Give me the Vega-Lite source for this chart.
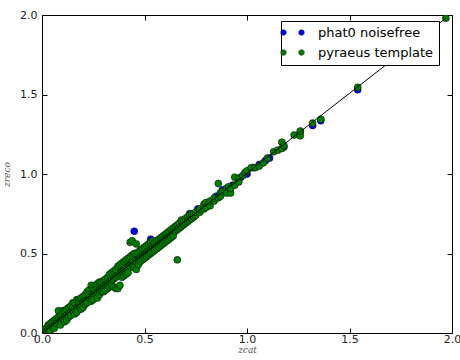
{
  "$schema": "https://vega.github.io/schema/vega-lite/v6.json",
  "autosize": "none",
  "width": 410,
  "height": 318,
  "padding": {"left": 42, "top": 15, "right": 8, "bottom": 27},
  "background": "white",
  "config": {
    "view": {"stroke": "black", "strokeWidth": 1},
    "axis": {"grid": false, "domain": false, "tickColor": "black", "tickSize": -5, "labelFlush": false, "labelOverlap": false, "labelFont": "DejaVu Sans", "labelFontSize": 11, "labelColor": "#222", "titleFont": "DejaVu Serif", "titleFontSize": 9, "titleFontStyle": "italic", "titleFontWeight": "normal", "titleColor": "#555"},
    "legend": {"orient": "none", "legendX": 239, "legendY": 6, "padding": 5, "strokeColor": "black", "fillColor": "white", "symbolType": "M-2.36,0 a0.56,0.56 0 1,0 1.12,0 a0.56,0.56 0 1,0 -1.12,0 M1.24,0 a0.56,0.56 0 1,0 1.12,0 a0.56,0.56 0 1,0 -1.12,0", "symbolSize": 100, "symbolStrokeWidth": 0.5, "symbolStrokeColor": "black", "labelFont": "DejaVu Sans", "labelFontSize": 13, "labelColor": "black", "labelOffset": 19, "rowPadding": 6, "cornerRadius": 0}
  },
  "datasets": {
    "phat": [
      {"zcat":0.03,"zreco":0.02},{"zcat":0.06,"zreco":0.06},{"zcat":0.09,"zreco":0.08},{"zcat":0.12,"zreco":0.12},{"zcat":0.15,"zreco":0.16},{"zcat":0.18,"zreco":0.19},{"zcat":0.20,"zreco":0.22},{"zcat":0.22,"zreco":0.21},{"zcat":0.25,"zreco":0.26},{"zcat":0.28,"zreco":0.29},{"zcat":0.30,"zreco":0.31},{"zcat":0.33,"zreco":0.35},{"zcat":0.36,"zreco":0.37},{"zcat":0.39,"zreco":0.39},{"zcat":0.42,"zreco":0.43},{"zcat":0.45,"zreco":0.64},{"zcat":0.47,"zreco":0.47},{"zcat":0.50,"zreco":0.51},{"zcat":0.53,"zreco":0.59},{"zcat":0.55,"zreco":0.56},{"zcat":0.58,"zreco":0.58},{"zcat":0.60,"zreco":0.61},{"zcat":0.63,"zreco":0.63},{"zcat":0.66,"zreco":0.67},{"zcat":0.69,"zreco":0.70},{"zcat":0.72,"zreco":0.75},{"zcat":0.74,"zreco":0.74},{"zcat":0.76,"zreco":0.78},{"zcat":0.80,"zreco":0.80},{"zcat":0.85,"zreco":0.86},{"zcat":0.88,"zreco":0.90},{"zcat":0.90,"zreco":0.905},{"zcat":0.93,"zreco":0.93},{"zcat":0.97,"zreco":0.98},{"zcat":1.00,"zreco":1.00},{"zcat":1.03,"zreco":1.04},{"zcat":1.06,"zreco":1.06},{"zcat":1.09,"zreco":1.085},{"zcat":1.11,"zreco":1.10},{"zcat":1.18,"zreco":1.17},{"zcat":1.26,"zreco":1.265},{"zcat":1.32,"zreco":1.305},{"zcat":1.36,"zreco":1.335},{"zcat":1.54,"zreco":1.53}
    ],
    "pyraeus": [
      {"zcat":0.01,"zreco":0.00},{"zcat":0.01,"zreco":0.02},{"zcat":0.02,"zreco":0.03},{"zcat":0.02,"zreco":0.01},{"zcat":0.03,"zreco":0.05},{"zcat":0.03,"zreco":0.02},{"zcat":0.04,"zreco":0.06},{"zcat":0.04,"zreco":0.03},{"zcat":0.04,"zreco":0.01},{"zcat":0.05,"zreco":0.04},{"zcat":0.05,"zreco":0.07},{"zcat":0.06,"zreco":0.05},{"zcat":0.06,"zreco":0.08},{"zcat":0.06,"zreco":0.03},{"zcat":0.07,"zreco":0.09},{"zcat":0.07,"zreco":0.06},{"zcat":0.08,"zreco":0.14},{"zcat":0.08,"zreco":0.07},{"zcat":0.08,"zreco":0.10},{"zcat":0.09,"zreco":0.08},{"zcat":0.09,"zreco":0.11},{"zcat":0.09,"zreco":0.05},{"zcat":0.10,"zreco":0.14},{"zcat":0.10,"zreco":0.09},{"zcat":0.10,"zreco":0.12},{"zcat":0.11,"zreco":0.10},{"zcat":0.11,"zreco":0.14},{"zcat":0.11,"zreco":0.07},{"zcat":0.12,"zreco":0.15},{"zcat":0.12,"zreco":0.11},{"zcat":0.12,"zreco":0.08},{"zcat":0.13,"zreco":0.12},{"zcat":0.13,"zreco":0.16},{"zcat":0.13,"zreco":0.10},{"zcat":0.14,"zreco":0.13},{"zcat":0.14,"zreco":0.17},{"zcat":0.14,"zreco":0.11},{"zcat":0.15,"zreco":0.14},{"zcat":0.15,"zreco":0.19},{"zcat":0.15,"zreco":0.16},{"zcat":0.16,"zreco":0.12},{"zcat":0.16,"zreco":0.15},{"zcat":0.16,"zreco":0.19},{"zcat":0.17,"zreco":0.16},{"zcat":0.17,"zreco":0.21},{"zcat":0.17,"zreco":0.13},{"zcat":0.18,"zreco":0.17},{"zcat":0.18,"zreco":0.21},{"zcat":0.18,"zreco":0.19},{"zcat":0.19,"zreco":0.18},{"zcat":0.19,"zreco":0.22},{"zcat":0.19,"zreco":0.15},{"zcat":0.20,"zreco":0.19},{"zcat":0.20,"zreco":0.23},{"zcat":0.20,"zreco":0.16},{"zcat":0.21,"zreco":0.20},{"zcat":0.21,"zreco":0.24},{"zcat":0.21,"zreco":0.18},{"zcat":0.22,"zreco":0.21},{"zcat":0.22,"zreco":0.19},{"zcat":0.22,"zreco":0.26},{"zcat":0.23,"zreco":0.22},{"zcat":0.23,"zreco":0.27},{"zcat":0.23,"zreco":0.24},{"zcat":0.24,"zreco":0.23},{"zcat":0.24,"zreco":0.30},{"zcat":0.24,"zreco":0.20},{"zcat":0.25,"zreco":0.24},{"zcat":0.25,"zreco":0.28},{"zcat":0.25,"zreco":0.21},{"zcat":0.26,"zreco":0.25},{"zcat":0.26,"zreco":0.30},{"zcat":0.26,"zreco":0.27},{"zcat":0.27,"zreco":0.26},{"zcat":0.27,"zreco":0.31},{"zcat":0.27,"zreco":0.22},{"zcat":0.28,"zreco":0.27},{"zcat":0.28,"zreco":0.32},{"zcat":0.28,"zreco":0.24},{"zcat":0.29,"zreco":0.28},{"zcat":0.29,"zreco":0.32},{"zcat":0.29,"zreco":0.26},{"zcat":0.30,"zreco":0.29},{"zcat":0.30,"zreco":0.33},{"zcat":0.30,"zreco":0.26},{"zcat":0.31,"zreco":0.30},{"zcat":0.31,"zreco":0.34},{"zcat":0.31,"zreco":0.27},{"zcat":0.32,"zreco":0.31},{"zcat":0.32,"zreco":0.35},{"zcat":0.32,"zreco":0.28},{"zcat":0.33,"zreco":0.32},{"zcat":0.33,"zreco":0.37},{"zcat":0.33,"zreco":0.29},{"zcat":0.34,"zreco":0.33},{"zcat":0.34,"zreco":0.38},{"zcat":0.34,"zreco":0.30},{"zcat":0.35,"zreco":0.34},{"zcat":0.35,"zreco":0.39},{"zcat":0.35,"zreco":0.29},{"zcat":0.36,"zreco":0.35},{"zcat":0.36,"zreco":0.28},{"zcat":0.36,"zreco":0.40},{"zcat":0.37,"zreco":0.36},{"zcat":0.37,"zreco":0.28},{"zcat":0.37,"zreco":0.42},{"zcat":0.38,"zreco":0.37},{"zcat":0.38,"zreco":0.43},{"zcat":0.38,"zreco":0.30},{"zcat":0.39,"zreco":0.38},{"zcat":0.39,"zreco":0.44},{"zcat":0.39,"zreco":0.35},{"zcat":0.40,"zreco":0.39},{"zcat":0.40,"zreco":0.45},{"zcat":0.40,"zreco":0.36},{"zcat":0.41,"zreco":0.40},{"zcat":0.41,"zreco":0.46},{"zcat":0.41,"zreco":0.37},{"zcat":0.42,"zreco":0.41},{"zcat":0.42,"zreco":0.47},{"zcat":0.42,"zreco":0.38},{"zcat":0.43,"zreco":0.42},{"zcat":0.43,"zreco":0.48},{"zcat":0.43,"zreco":0.57},{"zcat":0.44,"zreco":0.43},{"zcat":0.44,"zreco":0.49},{"zcat":0.44,"zreco":0.58},{"zcat":0.45,"zreco":0.44},{"zcat":0.45,"zreco":0.50},{"zcat":0.45,"zreco":0.41},{"zcat":0.46,"zreco":0.45},{"zcat":0.46,"zreco":0.50},{"zcat":0.46,"zreco":0.40},{"zcat":0.46,"zreco":0.56},{"zcat":0.47,"zreco":0.46},{"zcat":0.47,"zreco":0.51},{"zcat":0.47,"zreco":0.43},{"zcat":0.48,"zreco":0.47},{"zcat":0.48,"zreco":0.52},{"zcat":0.48,"zreco":0.45},{"zcat":0.49,"zreco":0.48},{"zcat":0.49,"zreco":0.53},{"zcat":0.49,"zreco":0.46},{"zcat":0.50,"zreco":0.49},{"zcat":0.50,"zreco":0.54},{"zcat":0.50,"zreco":0.47},{"zcat":0.51,"zreco":0.50},{"zcat":0.51,"zreco":0.55},{"zcat":0.51,"zreco":0.48},{"zcat":0.52,"zreco":0.51},{"zcat":0.52,"zreco":0.56},{"zcat":0.52,"zreco":0.49},{"zcat":0.53,"zreco":0.52},{"zcat":0.53,"zreco":0.57},{"zcat":0.53,"zreco":0.50},{"zcat":0.54,"zreco":0.53},{"zcat":0.54,"zreco":0.58},{"zcat":0.54,"zreco":0.51},{"zcat":0.55,"zreco":0.54},{"zcat":0.55,"zreco":0.57},{"zcat":0.55,"zreco":0.52},{"zcat":0.56,"zreco":0.55},{"zcat":0.56,"zreco":0.58},{"zcat":0.56,"zreco":0.53},{"zcat":0.57,"zreco":0.56},{"zcat":0.57,"zreco":0.59},{"zcat":0.57,"zreco":0.54},{"zcat":0.58,"zreco":0.57},{"zcat":0.58,"zreco":0.60},{"zcat":0.58,"zreco":0.55},{"zcat":0.59,"zreco":0.58},{"zcat":0.59,"zreco":0.61},{"zcat":0.59,"zreco":0.56},{"zcat":0.60,"zreco":0.59},{"zcat":0.60,"zreco":0.62},{"zcat":0.60,"zreco":0.57},{"zcat":0.61,"zreco":0.60},{"zcat":0.61,"zreco":0.63},{"zcat":0.61,"zreco":0.58},{"zcat":0.62,"zreco":0.61},{"zcat":0.62,"zreco":0.64},{"zcat":0.62,"zreco":0.59},{"zcat":0.63,"zreco":0.62},{"zcat":0.63,"zreco":0.65},{"zcat":0.63,"zreco":0.60},{"zcat":0.64,"zreco":0.63},{"zcat":0.64,"zreco":0.66},{"zcat":0.64,"zreco":0.61},{"zcat":0.65,"zreco":0.64},{"zcat":0.65,"zreco":0.67},{"zcat":0.66,"zreco":0.65},{"zcat":0.66,"zreco":0.68},{"zcat":0.66,"zreco":0.46},{"zcat":0.67,"zreco":0.66},{"zcat":0.67,"zreco":0.69},{"zcat":0.68,"zreco":0.67},{"zcat":0.68,"zreco":0.71},{"zcat":0.69,"zreco":0.68},{"zcat":0.69,"zreco":0.70},{"zcat":0.70,"zreco":0.69},{"zcat":0.70,"zreco":0.72},{"zcat":0.71,"zreco":0.70},{"zcat":0.71,"zreco":0.73},{"zcat":0.72,"zreco":0.71},{"zcat":0.72,"zreco":0.74},{"zcat":0.73,"zreco":0.72},{"zcat":0.73,"zreco":0.75},{"zcat":0.74,"zreco":0.73},{"zcat":0.74,"zreco":0.75},{"zcat":0.75,"zreco":0.74},{"zcat":0.75,"zreco":0.76},{"zcat":0.77,"zreco":0.76},{"zcat":0.77,"zreco":0.78},{"zcat":0.79,"zreco":0.78},{"zcat":0.79,"zreco":0.81},{"zcat":0.80,"zreco":0.82},{"zcat":0.80,"zreco":0.79},{"zcat":0.82,"zreco":0.80},{"zcat":0.82,"zreco":0.83},{"zcat":0.84,"zreco":0.83},{"zcat":0.84,"zreco":0.85},{"zcat":0.86,"zreco":0.94},{"zcat":0.86,"zreco":0.85},{"zcat":0.87,"zreco":0.88},{"zcat":0.87,"zreco":0.86},{"zcat":0.88,"zreco":0.89},{"zcat":0.90,"zreco":0.91},{"zcat":0.90,"zreco":0.88},{"zcat":0.91,"zreco":0.92},{"zcat":0.92,"zreco":0.88},{"zcat":0.92,"zreco":0.91},{"zcat":0.94,"zreco":0.98},{"zcat":0.94,"zreco":0.93},{"zcat":0.96,"zreco":0.97},{"zcat":0.96,"zreco":0.95},{"zcat":0.98,"zreco":0.99},{"zcat":0.99,"zreco":1.01},{"zcat":1.00,"zreco":1.02},{"zcat":1.02,"zreco":1.04},{"zcat":1.04,"zreco":1.04},{"zcat":1.06,"zreco":1.05},{"zcat":1.08,"zreco":1.07},{"zcat":1.10,"zreco":1.10},{"zcat":1.13,"zreco":1.14},{"zcat":1.15,"zreco":1.15},{"zcat":1.17,"zreco":1.20},{"zcat":1.17,"zreco":1.16},{"zcat":1.18,"zreco":1.18},{"zcat":1.23,"zreco":1.245},{"zcat":1.26,"zreco":1.24},{"zcat":1.26,"zreco":1.27},{"zcat":1.32,"zreco":1.32},{"zcat":1.36,"zreco":1.345},{"zcat":1.54,"zreco":1.545},{"zcat":1.97,"zreco":1.98}
    ],
    "diag": [{"zcat":0,"zreco":0},{"zcat":1.97,"zreco":1.98}]
  },
  "layer": [
    {
      "data": {"name": "phat"},
      "mark": {"type": "point", "filled": true, "shape": "circle", "size": 49, "stroke": "black", "strokeWidth": 0.5, "opacity": 1, "clip": true},
      "encoding": {
        "x": {"field": "zcat", "type": "quantitative", "scale": {"domain": [0, 2], "nice": false, "zero": false}, "axis": {"values": [0, 0.5, 1, 1.5, 2], "format": ".1f", "labelPadding": 5, "title": "zcat", "titlePadding": 1}},
        "y": {"field": "zreco", "type": "quantitative", "scale": {"domain": [0, 2], "nice": false, "zero": false}, "axis": {"values": [0, 0.5, 1, 1.5, 2], "format": ".1f", "labelPadding": 10, "title": "zreco", "titlePadding": 8}},
        "color": {"datum": "phat0 noisefree", "type": "nominal", "scale": {"domain": ["phat0 noisefree", "pyraeus template"], "range": ["#0000ff", "#008000"]}, "legend": {"title": null}}
      }
    },
    {
      "data": {"name": "pyraeus"},
      "mark": {"type": "point", "filled": true, "shape": "circle", "size": 49, "stroke": "black", "strokeWidth": 0.5, "opacity": 1, "clip": true},
      "encoding": {
        "x": {"field": "zcat", "type": "quantitative", "axis": null},
        "y": {"field": "zreco", "type": "quantitative", "axis": null},
        "color": {"datum": "pyraeus template", "type": "nominal"}
      }
    },
    {
      "data": {"name": "diag"},
      "mark": {"type": "line", "color": "black", "strokeWidth": 1, "clip": true},
      "encoding": {
        "x": {"field": "zcat", "type": "quantitative", "axis": {"orient": "top", "values": [0, 0.5, 1, 1.5, 2], "labels": false, "title": null}},
        "y": {"field": "zreco", "type": "quantitative", "axis": {"orient": "right", "values": [0, 0.5, 1, 1.5, 2], "labels": false, "title": null}}
      }
    }
  ],
  "resolve": {"axis": {"x": "independent", "y": "independent"}}
}
